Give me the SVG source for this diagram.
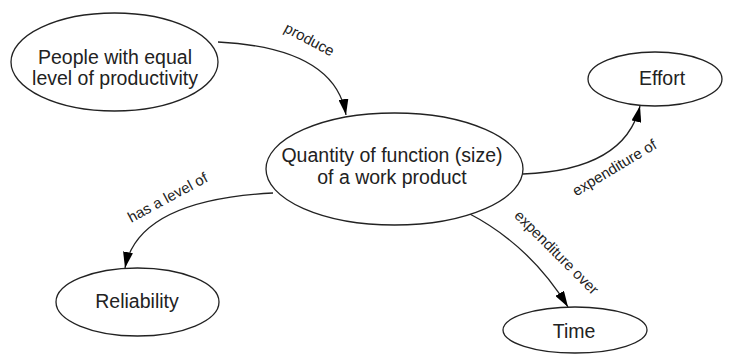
<svg xmlns="http://www.w3.org/2000/svg" width="730" height="354" viewBox="0 0 730 354">
<defs>
<style>
.node ellipse{fill:#fff;stroke:#222;stroke-width:1.3}
.node text{font-family:"Liberation Sans",Arial,sans-serif;font-size:19.5px;fill:#222;text-anchor:middle}
.edge path{fill:none;stroke:#222;stroke-width:1.3}
.lbl{font-family:"Liberation Sans",Arial,sans-serif;font-size:15px;fill:#222;text-anchor:middle}
</style>
<marker id="arr" markerUnits="userSpaceOnUse" markerWidth="16" markerHeight="10" refX="16" refY="5" orient="auto">
<path d="M0,0 L16,5 L0,10 z" fill="#000"/>
</marker>
</defs>
<rect width="730" height="354" fill="#fff"/>
<g id="connectors" class="edge">
<path d="M218,42 Q335,48 346,115" marker-end="url(#arr)"/>
<path d="M523,174 Q625,170 640,106" marker-end="url(#arr)"/>
<path d="M273,193 Q138,200 125,268" marker-end="url(#arr)"/>
<path d="M468,213 Q530,245 568,307" marker-end="url(#arr)"/>
<text class="lbl" transform="translate(307,44) rotate(28)">produce</text>
<text class="lbl" transform="translate(617,172) rotate(-31)">expenditure of</text>
<text class="lbl" transform="translate(170,202) rotate(-28.5)">has a level of</text>
<text class="lbl" transform="translate(553,256) rotate(45)">expenditure over</text>
</g>
<g id="people" class="node">
<ellipse cx="114.5" cy="62" rx="103.5" ry="49"/>
<text x="115" y="64">People with equal</text>
<text x="115" y="85">level of productivity</text>
</g>
<g id="quantity" class="node">
<ellipse cx="394.5" cy="169" rx="128.5" ry="56"/>
<text x="392" y="162">Quantity of function (size)</text>
<text x="392" y="184">of a work product</text>
</g>
<g id="effort" class="node">
<ellipse cx="655" cy="79" rx="67" ry="27"/>
<text x="662" y="85">Effort</text>
</g>
<g id="reliability" class="node">
<ellipse cx="137.5" cy="302" rx="81.5" ry="34"/>
<text x="137" y="308">Reliability</text>
</g>
<g id="time" class="node">
<ellipse cx="575" cy="330" rx="72" ry="23"/>
<text x="574" y="338">Time</text>
</g>
</svg>
